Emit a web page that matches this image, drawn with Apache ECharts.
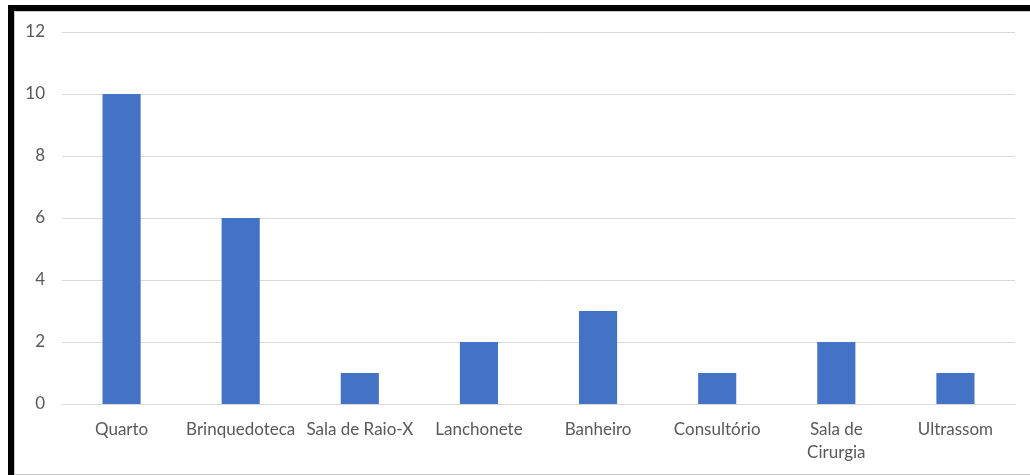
<!DOCTYPE html>
<html>
<head>
<meta charset="utf-8">
<script src="https://cdn.jsdelivr.net/npm/echarts@6/dist/echarts.min.js"></script>
<style>
html,body{margin:0;padding:0;background:#fff;width:1030px;height:475px;overflow:hidden;}
#chart{position:absolute;left:0;top:0;width:1030px;height:475px;}
.b{position:absolute;pointer-events:none;}
</style>
</head>
<body>
<div id="chart"></div>
<div class="b" style="left:8px;top:5px;width:1022px;height:6px;background:#000"></div>
<div class="b" style="left:8px;top:5px;width:6px;height:470px;background:#000"></div>
<div class="b" style="left:14px;top:11px;width:1016px;height:1px;background:#c8c8c8"></div>
<div class="b" style="left:14px;top:11px;width:1px;height:464px;background:#c8c8c8"></div>
<div class="b" style="left:14px;top:474px;width:1016px;height:1px;background:#c8c8c8"></div>
<script>
const categories = ['Quarto','Brinquedoteca','Sala de Raio-X','Lanchonete','Banheiro','Consultório','Sala de Cirurgia','Ultrassom'];
const values = [10, 6, 1, 2, 3, 1, 2, 1];
const yTicks = [0, 2, 4, 6, 8, 10, 12];

const chart = echarts.init(document.getElementById('chart'), null, {renderer:'canvas'});
chart.setOption({
  animation:false,
  backgroundColor:'transparent',
  grid:{left:62,right:15,top:32,bottom:71,containLabel:false},
  xAxis:{
    type:'category',
    data:categories,
    axisLine:{show:true,lineStyle:{color:'#d9d9d9',width:1}},
    axisTick:{show:false},
    axisLabel:{
      interval:0,
      color:'#595959',
      fontFamily:'Lato',
      fontSize:17,
      lineHeight:23,
      margin:14,
      formatter:function(v){return v==='Sala de Cirurgia'?'Sala de\nCirurgia':v;}
    }
  },
  yAxis:{
    type:'value',
    min:yTicks[0],
    max:yTicks[yTicks.length-1],
    interval:2,
    axisLine:{show:false},
    axisTick:{show:false},
    splitLine:{lineStyle:{color:'#d9d9d9',width:1}},
    axisLabel:{color:'#595959',fontFamily:'Lato',fontSize:17,margin:17}
  },
  series:[{
    type:'bar',
    data:values,
    barWidth:'32%',
    itemStyle:{color:'#4472C4'}
  }]
});
</script>
</body>
</html>
